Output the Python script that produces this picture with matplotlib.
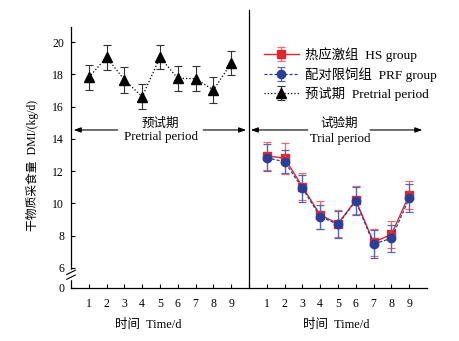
import matplotlib
matplotlib.use("Agg")
import matplotlib.pyplot as plt
import matplotlib.transforms as mtransforms
import numpy as np

plt.rcParams['font.family'] = ['Liberation Serif', 'Noto Sans CJK SC']
plt.rcParams['font.size'] = 8.5
plt.rcParams['axes.unicode_minus'] = False

days = [1, 2, 3, 4, 5, 6, 7, 8, 9]
day_labels = ["1", "2", "3", "4", "5", "6", "7", "8", "9"]
pretrial_mean = [17.81, 19.05, 17.65, 16.61, 19.05, 17.75, 17.73, 17.03, 18.68]
pretrial_se = [0.78, 0.78, 0.80, 0.78, 0.75, 0.77, 0.77, 0.80, 0.75]
hs_mean = [12.95, 12.80, 11.04, 9.28, 8.75, 10.20, 7.60, 8.08, 10.52]
hs_se = [0.85, 0.95, 0.85, 0.85, 0.85, 0.85, 0.83, 0.83, 0.87]
prf_mean = [12.83, 12.58, 10.94, 9.18, 8.70, 10.15, 7.48, 7.84, 10.31]
prf_se = [0.85, 0.72, 0.85, 0.75, 0.85, 0.85, 0.85, 0.85, 0.87]
ytick_vals = [6, 8, 10, 12, 14, 16, 18, 20]

W, H = 460, 341
fig = plt.figure(figsize=(W / 100, H / 100), dpi=100)
ax = fig.add_axes([71 / W, 1 - 288 / H, (427 - 71) / W, (288 - 27) / H])

x_pre = np.array(days, dtype=float)
x_trial = np.array(days, dtype=float) + 10

red = "#e3262e"
red_err = "#ee6a6a"
blue = "#2b3f97"
blue_err = "#5566b5"

ax.errorbar(x_pre, pretrial_mean, yerr=pretrial_se, color="black", ls=":", lw=0.9,
            marker="^", ms=7, capsize=3, elinewidth=0.8, ecolor="#333333", capthick=0.8,
            label="预试期  Pretrial period")
ax.errorbar(x_trial, hs_mean, yerr=hs_se, color=red, ls="-", lw=1.0,
            marker="s", ms=5.5, capsize=3, elinewidth=0.9, ecolor=red_err, capthick=0.9,
            label="热应激组  HS group", zorder=3)
ax.errorbar(x_trial, prf_mean, yerr=prf_se, color=blue, ls=(0, (2.5, 1.5)), lw=0.9,
            marker="o", ms=6, capsize=3, elinewidth=0.9, ecolor=blue_err, capthick=0.9,
            label="配对限饲组  PRF group", zorder=4)

ybot = 6 - 20 / 16.14
ytop = 20 + 15 / 16.14
ax.set_xlim(0, 20)
ax.set_ylim(ybot, ytop)

ax.spines['top'].set_visible(False)
ax.spines['right'].set_visible(False)
for s in ['left', 'bottom']:
    ax.spines[s].set_linewidth(0.9)

ax.set_yticks([ybot] + ytick_vals)
ax.set_yticklabels(["0"] + [str(v) for v in ytick_vals])
xt = list(x_pre) + [10] + list(x_trial)
ax.set_xticks(xt)
ax.set_xticklabels(day_labels + [""] + day_labels)
ax.tick_params(axis='both', direction='in', length=3, width=0.8, labelsize=8.5)
ax.tick_params(axis='x', pad=7)
ax.tick_params(axis='y', pad=5)

ax.set_ylabel("干物质采食量  DMI/(kg/d)", fontsize=8.5)
ax.yaxis.set_label_coords(-0.09, 0.47)

# divider
ax.axvline(10, ymin=0, ymax=(288 - 10) / (288 - 27), color="black", lw=0.9, clip_on=False)

# axis break
bt = mtransforms.blended_transform_factory(ax.transAxes, ax.transData)
ax.plot([0, 0], [5.40, 5.80], transform=bt, color="white", lw=2.5, clip_on=False, zorder=10)
for y0 in [5.60, 5.30]:
    ax.plot([-0.012, 0.012], [y0, y0 + 0.26], transform=bt, color="black", lw=0.8,
            clip_on=False, zorder=11)

# period arrows
ya = 14.55
aprops = dict(arrowstyle="-|>,head_length=0.5,head_width=0.18", color="black", lw=0.8,
              shrinkA=0, shrinkB=0)
ax.annotate("", xy=(0.15, ya), xytext=(2.62, ya), arrowprops=aprops)
ax.annotate("", xy=(9.84, ya), xytext=(7.43, ya), arrowprops=aprops)
ax.annotate("", xy=(10.1, ya), xytext=(13.3, ya), arrowprops=aprops)
ax.annotate("", xy=(19.74, ya), xytext=(16.8, ya), arrowprops=aprops)
ax.text(5.03, 14.92, "预试期", ha="center", va="center", fontsize=9)
ax.text(5.03, 14.12, "Pretrial period", ha="center", va="center", fontsize=9.3)
ax.text(15.05, 14.92, "试验期", ha="center", va="center", fontsize=9)
ax.text(15.1, 14.0, "Trial period", ha="center", va="center", fontsize=9.3)

# x labels
fig.text(148 / W, 1 - 325 / H, "时间  Time/d", ha="center", va="center", fontsize=9)
fig.text(336 / W, 1 - 325 / H, "时间  Time/d", ha="center", va="center", fontsize=9)

handles, labels = ax.get_legend_handles_labels()
order = [1, 2, 0]
leg = fig.legend([handles[i] for i in order], [labels[i] for i in order],
                 loc="upper left", bbox_to_anchor=(264 / W, 1 - 47 / H),
                 frameon=False, borderpad=0, borderaxespad=0, handlelength=2.6,
                 handletextpad=0.5, labelspacing=0.38, fontsize=9.6)

fig.savefig("out.png", dpi=100, facecolor="white")
